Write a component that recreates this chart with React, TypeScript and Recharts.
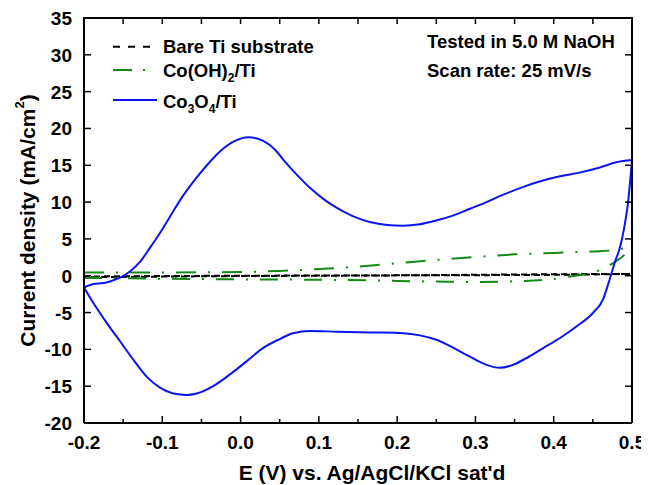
import { LineChart, Line, XAxis, YAxis, Label } from 'recharts'

// potential (V) / current density (mA/cm2), each CV split into anodic + cathodic branch
const co3o4AnodicE = [-0.2, -0.188, -0.175, -0.163, -0.154, -0.141, -0.128, -0.116, -0.103, -0.09, -0.077, -0.06, -0.043, -0.026, -0.009, 0.01, 0.029, 0.045, 0.055, 0.072, 0.089, 0.106, 0.123, 0.144, 0.165, 0.187, 0.208, 0.229, 0.25, 0.272, 0.293, 0.31, 0.331, 0.357, 0.382, 0.408, 0.433, 0.459, 0.48, 0.5]
const co3o4AnodicJ = [-1.6, -1.13, -1.0, -0.63, -0.27, 0.6, 1.94, 3.75, 5.8, 8.05, 10.3, 12.8, 15.0, 16.9, 18.2, 18.8, 18.3, 17.0, 15.7, 13.7, 11.9, 10.4, 9.2, 8.05, 7.3, 6.9, 6.8, 7.0, 7.5, 8.2, 9.1, 9.8, 10.8, 11.9, 12.8, 13.5, 14.0, 14.7, 15.4, 15.7]
const co3o4CathodicE = [-0.2, -0.188, -0.171, -0.154, -0.137, -0.12, -0.103, -0.086, -0.069, -0.056, -0.035, -0.0135, 0.008, 0.029, 0.05, 0.067, 0.089, 0.123, 0.165, 0.208, 0.229, 0.25, 0.272, 0.293, 0.314, 0.331, 0.348, 0.365, 0.387, 0.408, 0.429, 0.45, 0.463, 0.47, 0.478, 0.485, 0.49, 0.495, 0.5]
const co3o4CathodicJ = [-1.6, -3.7, -6.4, -8.9, -11.4, -13.7, -15.2, -16.0, -16.2, -16.0, -15.0, -13.4, -11.6, -9.8, -8.6, -7.8, -7.5, -7.6, -7.7, -7.8, -8.1, -8.7, -9.8, -11.0, -12.1, -12.5, -12.1, -11.2, -9.8, -8.46, -6.9, -5.06, -3.2, -1.0, 1.8, 4.0, 6.5, 10.0, 15.7]

const cohAnodicE = [-0.2, -0.1, 0, 0.05, 0.1, 0.15, 0.2, 0.25, 0.3, 0.35, 0.4, 0.45, 0.48, 0.5]
const cohAnodicJ = [0.45, 0.45, 0.5, 0.65, 0.9, 1.25, 1.7, 2.15, 2.55, 2.9, 3.1, 3.3, 3.5, 4.1]
const cohCathodicE = [-0.2, -0.1, 0, 0.1, 0.2, 0.25, 0.3, 0.35, 0.4, 0.42, 0.44, 0.46, 0.48, 0.49, 0.5]
const cohCathodicJ = [-0.3, -0.4, -0.5, -0.55, -0.7, -0.8, -0.85, -0.75, -0.45, -0.1, 0.2, 0.8, 2.0, 2.8, 4.1]

const tiAnodicE = [-0.2, 0, 0.2, 0.4, 0.5]
const tiAnodicJ = [-0.1, 0.0, 0.05, 0.12, 0.25]
const tiCathodicE = [-0.2, 0, 0.2, 0.4, 0.5]
const tiCathodicJ = [-0.2, -0.05, 0.05, 0.2, 0.25]

const xTicks = [-0.2, -0.15, -0.1, -0.05, 0, 0.05, 0.1, 0.15, 0.2, 0.25, 0.3, 0.35, 0.4, 0.45, 0.5]
const yTicks = [-20, -15, -10, -5, 0, 5, 10, 15, 20, 25, 30, 35]
const X_DOMAIN = [-0.2, 0.5]
const Y_DOMAIN = [-20, 35]

const toPts = (e: number[], j: number[]) => e.map((x, i) => ({ e: x, j: j[i] }))

const FONT = '"Liberation Sans", Arial, sans-serif'
const W = 641
const H = 477
const M = { top: 10, right: 17, bottom: 0, left: 0 }
const Y_AXIS_W = 76
const X_AXIS_H = 62
const X_MARGIN = 10
const Y_MARGIN = 12

// plot box, used for the top/right frame that the overlay draws
const PL = M.left + Y_AXIS_W
const PR = W - M.right
const PT = M.top
const PB = H - M.bottom - X_AXIS_H
const px = (v: number) => PL + ((v - X_DOMAIN[0]) / (X_DOMAIN[1] - X_DOMAIN[0])) * (PR - PL)
const py = (v: number) => PB - ((v - Y_DOMAIN[0]) / (Y_DOMAIN[1] - Y_DOMAIN[0])) * (PB - PT)

// ticks point into the plot, so they are drawn by the tick renderers
const BottomTick = (props: any) => {
  const { x, y, payload } = props
  const v = payload.value as number
  const major = Math.abs(v * 10 - Math.round(v * 10)) < 1e-6
  const axisY = y - X_MARGIN
  return (
    <g>
      <line x1={x} x2={x} y1={axisY} y2={axisY - (major ? 7 : 4)} stroke="#000" strokeWidth={1.5} />
      {major && (
        <text x={x} y={axisY + 26} textAnchor="middle" fontFamily={FONT} fontWeight="bold" fontSize={19} fill="#000">
          {v.toFixed(1)}
        </text>
      )}
    </g>
  )
}

const LeftTick = (props: any) => {
  const { x, y, payload } = props
  const axisX = x + Y_MARGIN
  return (
    <g>
      <line x1={axisX} x2={axisX + 7} y1={y} y2={y} stroke="#000" strokeWidth={1.5} />
      <text x={x} y={y + 7} textAnchor="end" fontFamily={FONT} fontWeight="bold" fontSize={19} fill="#000">
        {payload.value}
      </text>
    </g>
  )
}

export default function App() {
  const txt = { fontFamily: FONT, fontWeight: 'bold' as const, fill: '#000' }
  const axisLine = { stroke: '#000', strokeWidth: 2 }
  return (
    <div style={{ position: 'relative', width: W, height: H }}>
      <LineChart width={W} height={H} margin={M}>
        <XAxis
          xAxisId="b"
          dataKey="e"
          type="number"
          domain={X_DOMAIN}
          allowDataOverflow
          ticks={xTicks}
          interval={0}
          height={X_AXIS_H}
          tickSize={0}
          tickMargin={X_MARGIN}
          tickLine={false}
          tick={<BottomTick />}
          axisLine={axisLine}
        >
          <Label
            content={({ viewBox }: any) => (
              <text x={viewBox.x + viewBox.width / 2 + 14} y={viewBox.y + 57} textAnchor="middle" fontSize={21} {...txt}>
                E (V) vs. Ag/AgCl/KCl sat'd
              </text>
            )}
          />
        </XAxis>
        <YAxis
          yAxisId="l"
          type="number"
          domain={Y_DOMAIN}
          allowDataOverflow
          ticks={yTicks}
          interval={0}
          width={Y_AXIS_W}
          tickSize={0}
          tickMargin={Y_MARGIN}
          tickLine={false}
          tick={<LeftTick />}
          axisLine={axisLine}
        >
          <Label
            content={({ viewBox }: any) => {
              const cx = 19
              const cy = viewBox.y + viewBox.height / 2
              return (
                <text x={cx} y={cy} transform={`rotate(-90 ${cx} ${cy})`} textAnchor="middle" dominantBaseline="central" fontSize={21} {...txt}>
                  Current density (mA/cm
                  <tspan fontSize={13} dy={-8}>2</tspan>
                  <tspan dy={8}>)</tspan>
                </text>
              )
            }}
          />
        </YAxis>
        <Line xAxisId="b" yAxisId="l" data={toPts(tiAnodicE, tiAnodicJ)} dataKey="j" type="monotone" stroke="#000" strokeWidth={2} strokeDasharray="6 4" dot={false} isAnimationActive={false} />
        <Line xAxisId="b" yAxisId="l" data={toPts(tiCathodicE, tiCathodicJ)} dataKey="j" type="monotone" stroke="#000" strokeWidth={2} strokeDasharray="6 4" strokeDashoffset={3} dot={false} isAnimationActive={false} />
        <Line xAxisId="b" yAxisId="l" data={toPts(cohAnodicE, cohAnodicJ)} dataKey="j" type="monotone" stroke="#138a13" strokeWidth={2} strokeDasharray="20 12 2 12" dot={false} isAnimationActive={false} />
        <Line xAxisId="b" yAxisId="l" data={toPts(cohCathodicE, cohCathodicJ)} dataKey="j" type="monotone" stroke="#138a13" strokeWidth={2} strokeDasharray="18 12 2 12" dot={false} isAnimationActive={false} />
        <Line xAxisId="b" yAxisId="l" data={toPts(co3o4AnodicE, co3o4AnodicJ)} dataKey="j" type="monotone" stroke="#0a14f0" strokeWidth={2} dot={false} isAnimationActive={false} />
        <Line xAxisId="b" yAxisId="l" data={toPts(co3o4CathodicE, co3o4CathodicJ)} dataKey="j" type="monotone" stroke="#0a14f0" strokeWidth={2} dot={false} isAnimationActive={false} />
      </LineChart>
      <svg width={W} height={H} style={{ position: 'absolute', left: 0, top: 0, pointerEvents: 'none' }}>
        {/* top and right frame with inward ticks */}
        <line x1={PL - 1} x2={PR + 1} y1={PT} y2={PT} stroke="#000" strokeWidth={2} />
        <line x1={PR} x2={PR} y1={PT} y2={PB} stroke="#000" strokeWidth={2} />
        {xTicks.map((t) => (
          <line key={`tx${t}`} x1={px(t)} x2={px(t)} y1={PT} y2={PT + 6} stroke="#000" strokeWidth={1.5} />
        ))}
        {yTicks.map((t) => (
          <line key={`ty${t}`} x1={PR} x2={PR - 7} y1={py(t)} y2={py(t)} stroke="#000" strokeWidth={1.5} />
        ))}
        <line x1={105} x2={149} y1={38.7} y2={38.7} stroke="#000" strokeWidth={2} strokeDasharray="7 8" />
        <line x1={105} x2={149} y1={62} y2={62} stroke="#138a13" strokeWidth={2} strokeDasharray="19 11 2 20" />
        <line x1={105} x2={149} y1={92} y2={92} stroke="#0a14f0" strokeWidth={2} />
        <text x={155} y={45.3} fontSize={18.5} {...txt}>Bare Ti substrate</text>
        <text x={155} y={68.5} fontSize={18.5} {...txt}>
          Co(OH)<tspan fontSize={12} dy={5}>2</tspan><tspan dy={-5}>/Ti</tspan>
        </text>
        <text x={155} y={100.3} fontSize={18.5} {...txt}>
          Co<tspan fontSize={12} dy={5}>3</tspan><tspan dy={-5}>O</tspan><tspan fontSize={12} dy={5}>4</tspan><tspan dy={-5}>/Ti</tspan>
        </text>
        <text x={419} y={40} fontSize={18.5} {...txt}>Tested in 5.0 M NaOH</text>
        <text x={419} y={69.3} fontSize={18.5} {...txt}>Scan rate: 25 mV/s</text>
      </svg>
    </div>
  )
}
